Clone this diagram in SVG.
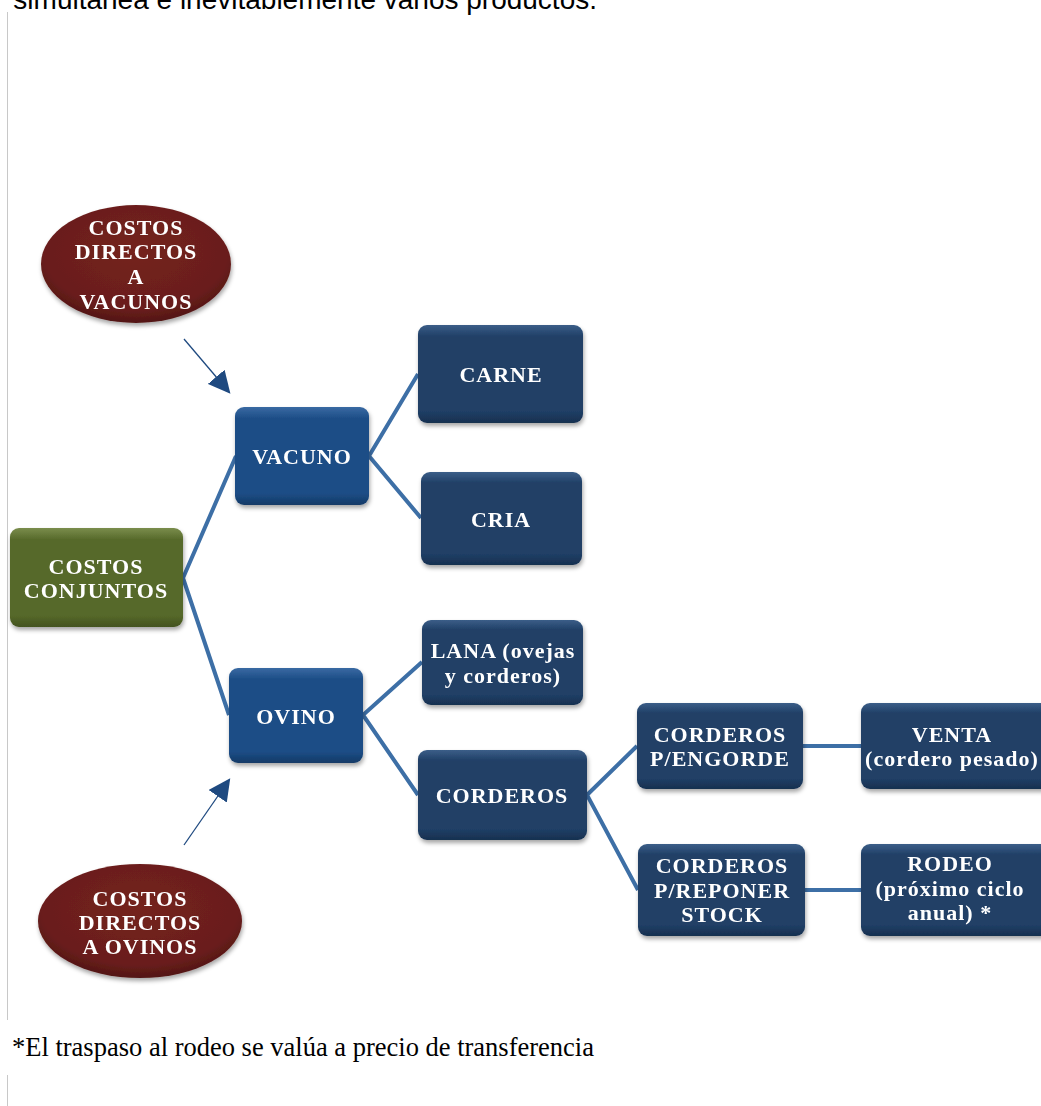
<svg xmlns="http://www.w3.org/2000/svg" width="1041" height="1106" viewBox="0 0 1041 1106">
<style>
.t{font-family:"Liberation Serif","Times New Roman",serif;font-weight:bold;font-size:22px;fill:#fff;text-anchor:middle;letter-spacing:1px}
.c{stroke:#3d6fa6;stroke-width:4;fill:none}
.a{stroke:#1f4a80;stroke-width:1.3;fill:none}
</style>
<defs>
<linearGradient id="gb" x1="0" y1="0" x2="0" y2="1"><stop offset="0" stop-color="#3b5e88"/><stop offset="0.12" stop-color="#203f66"/><stop offset="0.88" stop-color="#203f66"/><stop offset="1" stop-color="#17304f"/></linearGradient>
<linearGradient id="gv" x1="0" y1="0" x2="0" y2="1"><stop offset="0" stop-color="#3a6aa3"/><stop offset="0.12" stop-color="#1c4d86"/><stop offset="0.88" stop-color="#1c4d86"/><stop offset="1" stop-color="#143a66"/></linearGradient>
<linearGradient id="gg" x1="0" y1="0" x2="0" y2="1"><stop offset="0" stop-color="#7a8d4c"/><stop offset="0.12" stop-color="#56692a"/><stop offset="0.88" stop-color="#56692a"/><stop offset="1" stop-color="#43531f"/></linearGradient>
<radialGradient id="gr" cx="0.5" cy="0.4" r="0.6"><stop offset="0" stop-color="#74221f"/><stop offset="0.8" stop-color="#6a1e1c"/><stop offset="1" stop-color="#521614"/></radialGradient>
<filter id="sh" x="-10%" y="-10%" width="125%" height="130%"><feDropShadow dx="1" dy="3" stdDeviation="2" flood-color="#000" flood-opacity="0.35"/></filter>
<marker id="ah" viewBox="0 0 10 10" refX="9" refY="5" markerWidth="22" markerHeight="22" markerUnits="userSpaceOnUse" orient="auto"><path d="M0,0 L10,5 L0,10 z" fill="#1f4a80"/></marker>
</defs>
<rect width="1041" height="1106" fill="#fff"/>
<text x="597" y="9" font-family="Liberation Sans,Arial,sans-serif" font-size="28" text-anchor="end" fill="#000">simultánea e inevitablemente varios productos.</text>
<line x1="7.5" y1="12" x2="7.5" y2="1020" stroke="#c8c8c8" stroke-width="1"/>
<line x1="7.5" y1="1075" x2="7.5" y2="1106" stroke="#c8c8c8" stroke-width="1"/>
<g id="connectors">
<polyline class="c" points="236,456 183,578 229,715"/>
<polyline class="c" points="418,374 369,456 421,518"/>
<polyline class="c" points="422,662 363,715 418,795"/>
<polyline class="c" points="637,746 587,795 638,890"/>
<line class="c" x1="803" y1="746" x2="861" y2="746"/>
<line class="c" x1="805" y1="890" x2="861" y2="890"/>
<line class="a" x1="184" y1="339" x2="229" y2="392" marker-end="url(#ah)"/>
<line class="a" x1="184" y1="845" x2="229" y2="780" marker-end="url(#ah)"/>
</g>
<g id="n-dir-vac" filter="url(#sh)"><ellipse cx="136" cy="264" rx="95" ry="59" fill="url(#gr)"/>
<text class="t" x="136" y="235">COSTOS</text><text class="t" x="136" y="259">DIRECTOS</text><text class="t" x="136" y="284">A</text><text class="t" x="136" y="309">VACUNOS</text></g>
<g id="n-dir-ovi" filter="url(#sh)"><ellipse cx="140" cy="921" rx="102" ry="57" fill="url(#gr)"/>
<text class="t" x="140" y="906">COSTOS</text><text class="t" x="140" y="930">DIRECTOS</text><text class="t" x="140" y="954">A OVINOS</text></g>
<g id="n-conj" filter="url(#sh)"><rect x="10" y="528" width="173" height="99" rx="9" fill="url(#gg)"/>
<text class="t" x="96" y="574">COSTOS</text><text class="t" x="96" y="598">CONJUNTOS</text></g>
<g id="n-vacuno" filter="url(#sh)"><rect x="235" y="407" width="134" height="98" rx="9" fill="url(#gv)"/>
<text class="t" x="302" y="464">VACUNO</text></g>
<g id="n-ovino" filter="url(#sh)"><rect x="229" y="668" width="134" height="95" rx="9" fill="url(#gv)"/>
<text class="t" x="296" y="724">OVINO</text></g>
<g id="n-carne" filter="url(#sh)"><rect x="418" y="325" width="165" height="98" rx="9" fill="url(#gb)"/>
<text class="t" x="501" y="382">CARNE</text></g>
<g id="n-cria" filter="url(#sh)"><rect x="421" y="472" width="161" height="93" rx="9" fill="url(#gb)"/>
<text class="t" x="501" y="527">CRIA</text></g>
<g id="n-lana" filter="url(#sh)"><rect x="422" y="620" width="161" height="85" rx="9" fill="url(#gb)"/>
<text class="t" x="503" y="658">LANA (ovejas</text><text class="t" x="503" y="683">y corderos)</text></g>
<g id="n-corderos" filter="url(#sh)"><rect x="418" y="750" width="169" height="90" rx="9" fill="url(#gb)"/>
<text class="t" x="502" y="803">CORDEROS</text></g>
<g id="n-engorde" filter="url(#sh)"><rect x="637" y="703" width="166" height="86" rx="9" fill="url(#gb)"/>
<text class="t" x="720" y="742">CORDEROS</text><text class="t" x="720" y="766">P/ENGORDE</text></g>
<g id="n-venta" filter="url(#sh)"><rect x="861" y="703" width="190" height="86" rx="9" fill="url(#gb)"/>
<text class="t" x="952" y="742">VENTA</text><text class="t" x="952" y="766">(cordero pesado)</text></g>
<g id="n-reponer" filter="url(#sh)"><rect x="638" y="844" width="167" height="92" rx="9" fill="url(#gb)"/>
<text class="t" x="722" y="873">CORDEROS</text><text class="t" x="722" y="898">P/REPONER</text><text class="t" x="722" y="922">STOCK</text></g>
<g id="n-rodeo" filter="url(#sh)"><rect x="861" y="844" width="190" height="92" rx="9" fill="url(#gb)"/>
<text class="t" x="950" y="871">RODEO</text><text class="t" x="950" y="896">(próximo ciclo</text><text class="t" x="950" y="920">anual) *</text></g>
<text x="12" y="1056" font-family="Liberation Serif,Times New Roman,serif" font-size="26.5" fill="#000">*El traspaso al rodeo se valúa a precio de transferencia</text>
</svg>
